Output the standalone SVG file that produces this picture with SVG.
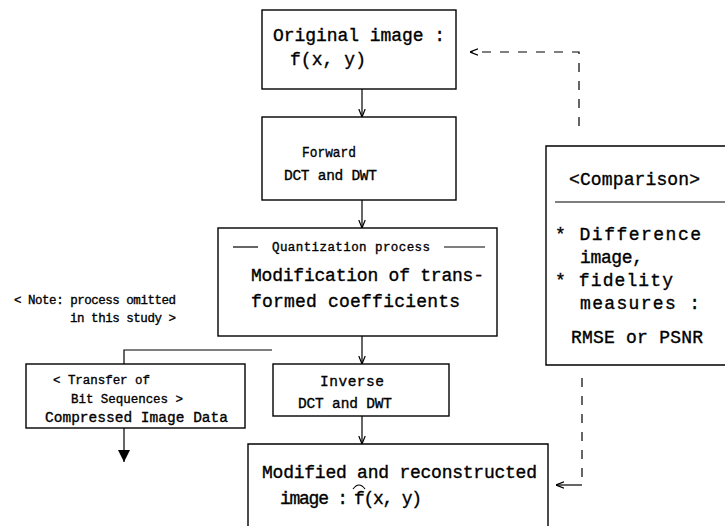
<svg xmlns="http://www.w3.org/2000/svg" width="725" height="526" viewBox="0 0 725 526">
<style>
.box{fill:none;stroke:#000;stroke-width:1.4}
.ln{fill:none;stroke:#000;stroke-width:1.2}
.dash{fill:none;stroke:#000;stroke-width:1.2;stroke-dasharray:9 9}
text{font-family:"Liberation Mono","Courier New",monospace;fill:#000;stroke:#000;stroke-width:0.35}
.big{font-size:18px}
.mid{font-size:14.5px}
.sm{font-size:12.5px}
</style>
<defs>
<marker id="ah" viewBox="0 0 10 10" refX="10" refY="5" markerWidth="8" markerHeight="8" markerUnits="userSpaceOnUse" orient="auto">
<path d="M0,1 L10,5 L0,9" fill="none" stroke="#000" stroke-width="1.5"/>
</marker>
<marker id="ahf" viewBox="0 0 10 10" refX="10" refY="5" markerWidth="16" markerHeight="12" markerUnits="userSpaceOnUse" orient="auto">
<path d="M0,0 L10,5 L0,10 Z" fill="#000"/>
</marker>
</defs>
<g id="connectors">
<line class="ln" x1="362" y1="89" x2="362" y2="117" marker-end="url(#ah)"/>
<line class="ln" x1="362" y1="200" x2="362" y2="228" marker-end="url(#ah)"/>
<line class="ln" x1="362" y1="336" x2="362" y2="364" marker-end="url(#ah)"/>
<polyline class="ln" points="272,350 124,350 124,364"/>
<line class="ln" x1="124" y1="428" x2="124" y2="462" marker-end="url(#ahf)"/>
<line class="ln" x1="362" y1="416" x2="362" y2="444" marker-end="url(#ah)"/>
<polyline class="dash" points="579,126 579,52 470,52" marker-end="url(#ah)"/>
<polyline class="dash" points="582,378 582,485"/>
<line class="ln" x1="582" y1="485" x2="556" y2="485" marker-end="url(#ah)"/>
</g>
<g id="original">
<rect class="box" x="262" y="10" width="194" height="79"/>
<text class="big" x="273" y="41" textLength="172" lengthAdjust="spacing">Original image :</text>
<text class="big" x="290" y="65" textLength="76" lengthAdjust="spacing">f(x, y)</text>
</g>
<g id="forward">
<rect class="box" x="262" y="117" width="194" height="83"/>
<text class="mid" x="302" y="157" textLength="54" lengthAdjust="spacingAndGlyphs">Forward</text>
<text class="mid" x="284" y="180" textLength="93" lengthAdjust="spacing">DCT and DWT</text>
</g>
<g id="quantization">
<rect class="box" x="218" y="228" width="279" height="108"/>
<line class="ln" x1="233" y1="247" x2="258" y2="247"/>
<line class="ln" x1="444" y1="247" x2="485" y2="247"/>
<text class="sm" x="272" y="251" textLength="158" lengthAdjust="spacing">Quantization process</text>
<text class="big" x="251" y="281" textLength="233" lengthAdjust="spacing">Modification of trans-</text>
<text class="big" x="251" y="307" textLength="209" lengthAdjust="spacing">formed coefficients</text>
</g>
<g id="note">
<text class="sm" x="14" y="304" textLength="162" lengthAdjust="spacing">&lt; Note: process omitted</text>
<text class="sm" x="70" y="322" textLength="106" lengthAdjust="spacing">in this study &gt;</text>
</g>
<g id="transfer">
<rect class="box" x="26" y="364" width="219" height="64"/>
<text class="sm" x="53" y="384" textLength="97" lengthAdjust="spacing">&lt; Transfer of</text>
<text class="sm" x="71" y="403" textLength="112" lengthAdjust="spacing">Bit Sequences &gt;</text>
<text class="mid" x="45" y="422" textLength="183" lengthAdjust="spacing">Compressed Image Data</text>
</g>
<g id="inverse">
<rect class="box" x="273" y="364" width="176" height="52"/>
<text class="mid" x="320" y="386" textLength="64" lengthAdjust="spacing">Inverse</text>
<text class="mid" x="298" y="408" textLength="94" lengthAdjust="spacing">DCT and DWT</text>
</g>
<g id="reconstructed">
<polyline class="box" points="248,526 248,444 548,444 548,526"/>
<text class="big" x="262" y="478" textLength="275" lengthAdjust="spacing">Modified and reconstructed</text>
<text class="big" x="280" y="504" textLength="68" lengthAdjust="spacing">image :</text>
<text class="big" x="354" y="504" textLength="68" lengthAdjust="spacing">f(x, y)</text>
<path class="ln" d="M353,489 Q359,481 365,489"/>
</g>
<g id="comparison">
<polyline class="box" points="726,146 546,146 546,365 726,365"/>
<line class="ln" x1="555" y1="202" x2="725" y2="202"/>
<text class="big" x="569" y="185" textLength="131" lengthAdjust="spacing">&lt;Comparison&gt;</text>
<text class="big" x="555" y="240" textLength="146" lengthAdjust="spacing">* Difference</text>
<text class="big" x="580" y="263" textLength="63" lengthAdjust="spacing">image,</text>
<text class="big" x="555" y="286" textLength="118" lengthAdjust="spacing">* fidelity</text>
<text class="big" x="580" y="309" textLength="120" lengthAdjust="spacing">measures :</text>
<text class="big" x="571" y="343" textLength="132" lengthAdjust="spacing">RMSE or PSNR</text>
</g>
</svg>
